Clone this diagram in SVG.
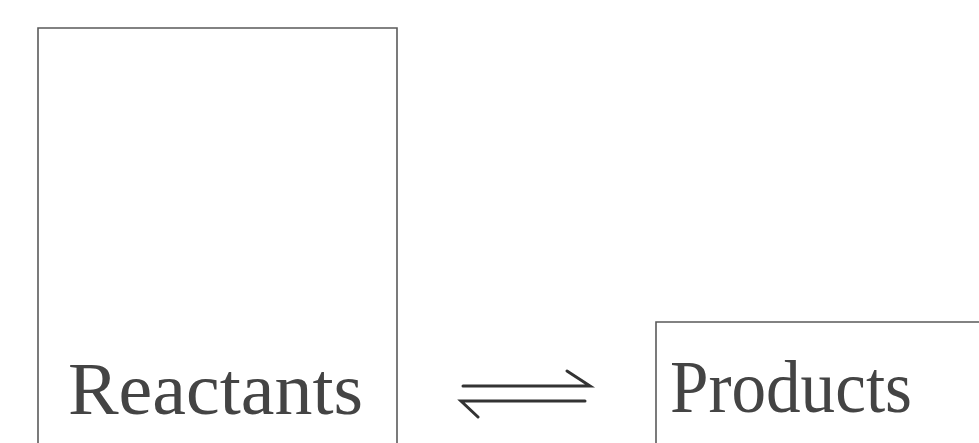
<svg xmlns="http://www.w3.org/2000/svg" width="979" height="443" viewBox="0 0 979 443">
<style>
.box{fill:none;stroke:#5a5a5a;stroke-width:1.6}
.lbl{font-family:"Liberation Serif",serif;font-size:74px;fill:#444}
.arr{fill:none;stroke:#333;stroke-width:3;stroke-linecap:round}
</style>
<rect width="979" height="443" fill="#fff"/>
<g id="reactants">
<path class="box" d="M38,445 V28 H397 V445"/>
<text class="lbl" x="68" y="414" textLength="295" lengthAdjust="spacingAndGlyphs">Reactants</text>
</g>
<g id="products">
<path class="box" d="M656,445 V322 H981"/>
<text class="lbl" x="670" y="412" textLength="242" lengthAdjust="spacingAndGlyphs">Products</text>
</g>
<g id="connectors">
<path class="arr" d="M463,386 H590 L567,371"/>
<path class="arr" d="M585,401 H461 L478,417"/>
</g>
</svg>
